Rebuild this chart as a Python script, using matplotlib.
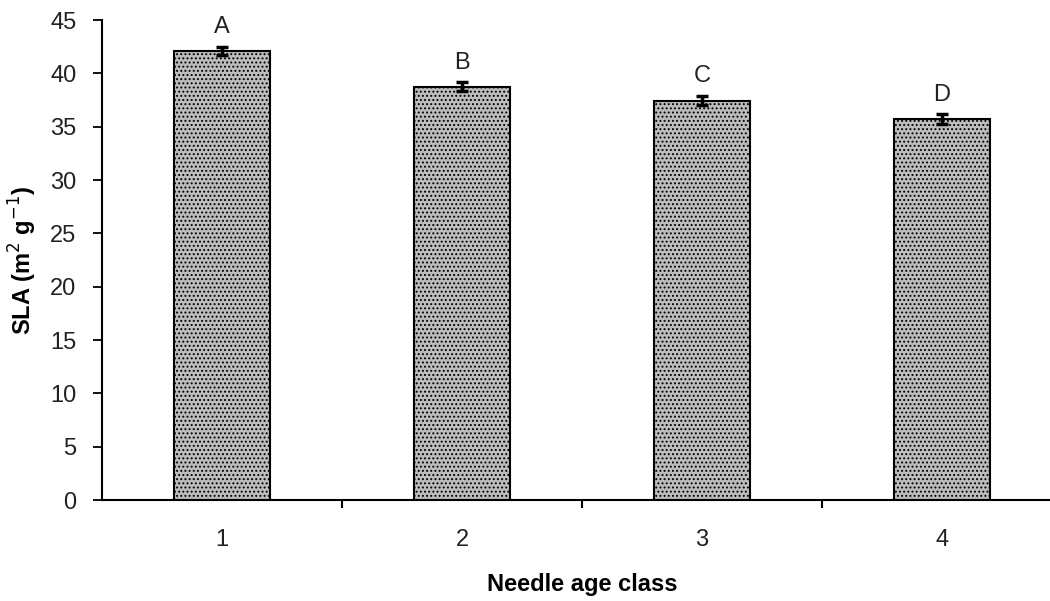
import matplotlib.pyplot as plt
from matplotlib.ticker import FixedLocator

# SLA per needle age class
age_class = [1, 2, 3, 4]
sla = [42.1, 38.75, 37.45, 35.7]
sla_se = [0.4, 0.45, 0.45, 0.45]
groups = ['A', 'B', 'C', 'D']

plt.rcParams['font.family'] = ['Liberation Sans', 'DejaVu Sans']
plt.rcParams['hatch.color'] = '#7a7a7a'
plt.rcParams['hatch.linewidth'] = 0.9

fig = plt.figure(figsize=(10.5, 6.01), dpi=100)
ax = fig.add_axes([0.0971, 0.168, 0.9143, 0.7987])

ax.bar(age_class, sla, width=0.4, color='#bdbdbd', edgecolor='black',
       linewidth=1.5, hatch='....', zorder=2)
ax.errorbar(age_class, sla, yerr=sla_se, fmt='none', ecolor='black',
            elinewidth=2.5, capsize=4, capthick=2.5, zorder=3)

# significance letters above each bar
for x, y, e, g in zip(age_class, sla, sla_se, groups):
    ax.annotate(g, (x, y + e), xytext=(0, 6), textcoords='offset points',
                ha='center', va='bottom', fontsize=17, color='#222222')

ax.set_xlim(0.5, 4.5)
ax.set_ylim(0, 45)
ax.set_yticks(range(0, 50, 5))
ax.set_xticks(age_class)
ax.xaxis.set_minor_locator(FixedLocator([1.5, 2.5, 3.5]))

for side in ['top', 'right']:
    ax.spines[side].set_visible(False)
for side in ['left', 'bottom']:
    ax.spines[side].set_linewidth(1.5)

ax.tick_params(axis='y', direction='out', length=6.5, width=1.3,
               pad=12, labelsize=17, labelcolor='#222222')
ax.tick_params(axis='x', which='major', length=0, pad=21,
               labelsize=17, labelcolor='#222222')
ax.tick_params(axis='x', which='minor', direction='out', length=6, width=1.5)

ax.set_ylabel('SLA (m$^2$ g$^{-1}$)', fontsize=17, fontweight='bold', labelpad=8)
ax.set_xlabel('Needle age class', fontsize=17, fontweight='bold', labelpad=16)

fig.savefig('out.png', dpi=100)
